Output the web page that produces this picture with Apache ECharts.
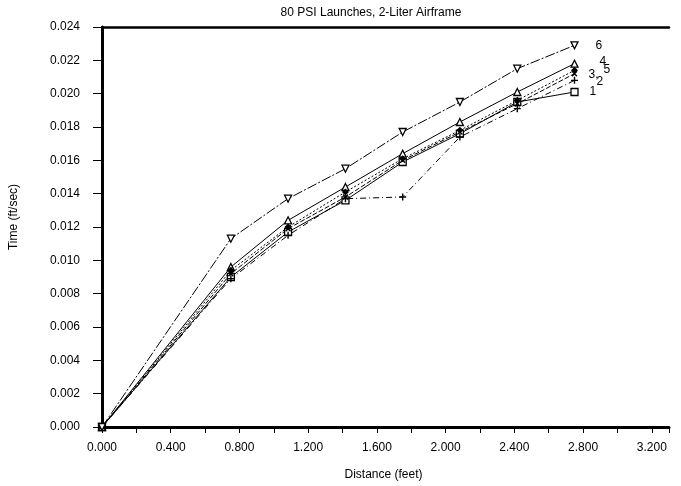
<!DOCTYPE html>
<html>
<head>
<meta charset="utf-8" />
<title>80 PSI Launches</title>
<script type="text/javascript" src="https://cdn.jsdelivr.net/npm/echarts@6/dist/echarts.min.js"></script>
<style>
  html, body { margin: 0; padding: 0; background: #fff; }
  #main { width: 681px; height: 486px; }
</style>
</head>
<body>
<div id="main"></div>
<script type="text/javascript">
    // distance stations (feet)
    var distance = [0, 0.75, 1.083, 1.417, 1.75, 2.083, 2.417, 2.75];

    // time readings per launch
    var launch1 = [0, 0.0090, 0.0117, 0.0136, 0.0159, 0.0176, 0.0195, 0.0201];
    var launch2 = [0, 0.0089, 0.0115, 0.0137, 0.0138, 0.0174, 0.0191, 0.0208];
    var launch3 = [0, 0.0092, 0.0119, 0.0138, 0.0160, 0.0177, 0.0194, 0.0212];
    var launch4 = [0, 0.0096, 0.0124, 0.0144, 0.0164, 0.0183, 0.0201, 0.0218];
    var launch5 = [0, 0.0094, 0.0120, 0.0141, 0.0161, 0.0178, 0.0196, 0.0214];
    var launch6 = [0, 0.0113, 0.0137, 0.0155, 0.0177, 0.0195, 0.0215, 0.0229];

    var yTicks = [0, 0.024, 0.002];   // min, max, step
    var xTicks = [0, 3.3, 0.2];

    function pairs(ys) {
        var out = [];
        for (var i = 0; i < distance.length; i++) {
            out.push([distance[i], ys[i]]);
        }
        return out;
    }

    var plusPath = 'path://M4,0H6V4H10V6H6V10H4V6H0V4H4Z';

    function mkSeries(name, ys, symbol, rotate, filled, dash, lbl, off) {
        return {
            name: name,
            type: 'line',
            data: pairs(ys),
            symbol: symbol,
            symbolRotate: rotate,
            symbolSize: 7,
            showAllSymbol: true,
            animation: false,
            lineStyle: { color: '#000', width: 1, type: dash },
            itemStyle: {
                color: filled ? '#000' : '#fff',
                borderColor: '#000',
                borderWidth: filled ? 0 : 1.3
            },
            endLabel: {
                show: true,
                formatter: lbl,
                distance: 0,
                offset: off,
                color: '#000',
                fontFamily: 'Liberation Sans',
                fontSize: 12
            },
            emphasis: { disabled: true },
            z: 3
        };
    }

    var myChart = echarts.init(document.getElementById('main'));
    myChart.setOption({
        backgroundColor: '#fff',
        animation: false,
        title: {
            text: '80 PSI Launches, 2-Liter Airframe',
            left: 366,
            textAlign: 'center',
            top: 2,
            textStyle: { fontFamily: 'Liberation Sans', fontSize: 12, fontWeight: 'normal', color: '#000' }
        },
        grid: { left: 100, right: 12, top: 27, bottom: 56, containLabel: false },
        xAxis: [{
            type: 'value',
            min: xTicks[0],
            max: xTicks[1],
            interval: xTicks[2],
            name: 'Distance (feet)',
            nameLocation: 'middle',
            nameGap: 42,
            nameTextStyle: { fontFamily: 'Liberation Sans', fontSize: 12, color: '#000', padding: [0, 0, 0, -4] },
            axisLine: { show: true, onZero: false, lineStyle: { color: '#000', width: 3 } },
            axisTick: { show: true, length: 6, lineStyle: { color: '#000', width: 1 } },
            axisLabel: {
                color: '#000',
                fontFamily: 'Liberation Sans',
                fontSize: 12,
                margin: 15,
                formatter: function (v) {
                    var k = Math.round(v * 10);
                    return (k % 4 === 0) ? v.toFixed(3) : '';
                }
            },
            splitLine: { show: false }
        }, {
            type: 'value',
            position: 'top',
            min: xTicks[0],
            max: xTicks[1],
            axisLine: { show: true, onZero: false, lineStyle: { color: '#000', width: 2.5 } },
            axisTick: { show: false },
            axisLabel: { show: false },
            splitLine: { show: false }
        }],
        yAxis: {
            type: 'value',
            min: yTicks[0],
            max: yTicks[1],
            interval: yTicks[2],
            name: 'Time (ft/sec)',
            nameLocation: 'middle',
            nameGap: 82,
            nameRotate: 90,
            nameTextStyle: { fontFamily: 'Liberation Sans', fontSize: 12, color: '#000', padding: [0, 0, 0, 20] },
            axisLine: { show: true, onZero: false, lineStyle: { color: '#000', width: 3 } },
            axisTick: { show: true, length: 9, lineStyle: { color: '#000', width: 1 } },
            axisLabel: {
                color: '#000',
                fontFamily: 'Liberation Sans',
                fontSize: 12,
                margin: 22,
                formatter: function (v) { return v.toFixed(3); }
            },
            splitLine: { show: false }
        },
        series: [
            mkSeries('1', launch1, 'rect', 0, false, 'solid', '1', [15, 0]),
            mkSeries('2', launch2, plusPath, 0, true, [6, 3, 1, 3], '2', [22, 1]),
            mkSeries('3', launch3, plusPath, 45, true, [5, 2], '3,', [14, 1]),
            mkSeries('4', launch4, 'triangle', 0, false, 'solid', '4', [25, -2]),
            mkSeries('5', launch5, 'diamond', 0, true, [2, 2], '5', [29, -1]),
            mkSeries('6', launch6, 'triangle', 180, false, [10, 2, 2, 2], '6', [21, 0])
        ]
    });
</script>
</body>
</html>
